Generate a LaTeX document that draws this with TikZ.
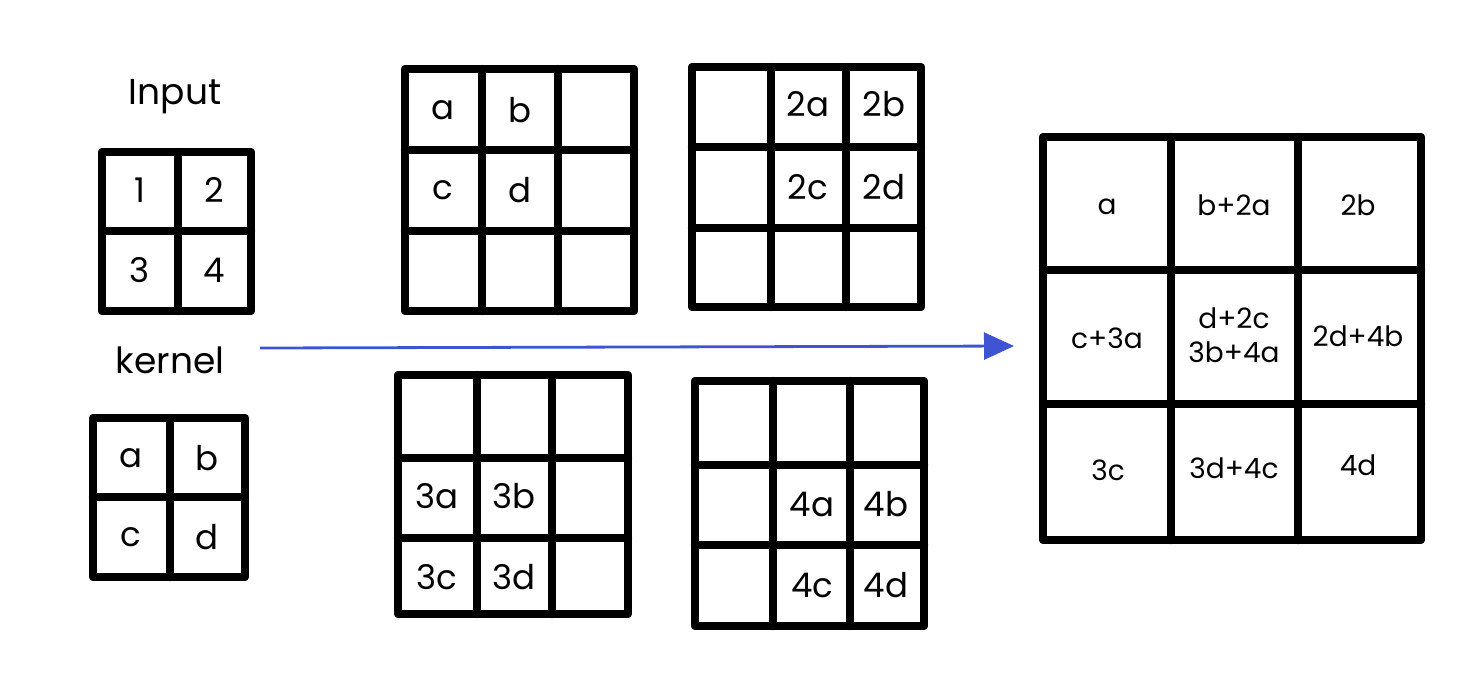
\documentclass[tikz,border=0pt]{standalone}
\usepackage{fontspec}
\setmainfont{Poppins}
\usetikzlibrary{arrows.meta}
\definecolor{arrowBlue}{RGB}{62,84,211}
\tikzset{
    GRID/.style={draw=black, line width=4.2pt, line cap=round,
        line join=round},
    LABEL/.style={inner sep=0mm, font={\fontsize{18}{21}\selectfont}},
    CELL/.style={inner sep=0mm, font={\fontsize{17}{20}\selectfont}},
    SUM/.style={inner sep=0mm, align=center,
        font={\fontsize{14}{17}\selectfont}},
    ARROW/.style={draw=arrowBlue, line width=1.4pt,
        -{Triangle[length=15pt, width=13.5pt]}}
}
\pgfdeclarelayer{edgelayer}
\pgfdeclarelayer{nodelayer}
\pgfsetlayers{edgelayer,nodelayer,main}

\begin{document}
\begin{tikzpicture}[x=0.5pt, y=-0.5pt]
    \useasboundingbox (0, 0) rectangle (1466, 677);
    \begin{pgfonlayer}{nodelayer}
        % input and kernel
        \node [LABEL] (input) at (175, 97) {Input};
        \node [CELL] (i1) at (140, 190) {1};
        \node [CELL] (i2) at (214, 190) {2};
        \node [CELL] (i3) at (140, 270) {3};
        \node [CELL] (i4) at (214, 270) {4};
        \node [LABEL] (kernel) at (170, 360) {kernel};
        \node [CELL] (ka) at (131, 458) {a};
        \node [CELL] (kb) at (207, 458) {b};
        \node [CELL] (kc) at (131, 537) {c};
        \node [CELL] (kd) at (207, 537) {d};
        % partial products
        \node [CELL] (a1) at (443, 110) {a};
        \node [CELL] (a2) at (520, 110) {b};
        \node [CELL] (a3) at (443, 190) {c};
        \node [CELL] (a4) at (520, 190) {d};
        \node [CELL] (b1) at (808, 104) {2a};
        \node [CELL] (b2) at (884, 104) {2b};
        \node [CELL] (b3) at (808, 187) {2c};
        \node [CELL] (b4) at (884, 187) {2d};
        \node [CELL] (c1) at (437, 496) {3a};
        \node [CELL] (c2) at (514, 496) {3b};
        \node [CELL] (c3) at (437, 577) {3c};
        \node [CELL] (c4) at (514, 577) {3d};
        \node [CELL] (d1) at (812, 504) {4a};
        \node [CELL] (d2) at (886, 504) {4b};
        \node [CELL] (d3) at (812, 585) {4c};
        \node [CELL] (d4) at (886, 585) {4d};
        % output
        \node [SUM] (o1) at (1107, 207) {a};
        \node [SUM] (o2) at (1234, 205) {b+2a};
        \node [SUM] (o3) at (1358, 205) {2b};
        \node [SUM] (o4) at (1107, 338) {c+3a};
        \node [SUM] (o5) at (1234, 335) {d+2c\\3b+4a};
        \node [SUM] (o6) at (1358, 336) {2d+4b};
        \node [SUM] (o7) at (1108, 470) {3c};
        \node [SUM] (o8) at (1234, 468) {3d+4c};
        \node [SUM] (o9) at (1358, 465) {4d};
        \coordinate (from) at (260, 348);
        \coordinate (to) at (1014, 346);
    \end{pgfonlayer}
    \begin{pgfonlayer}{edgelayer}
        \draw[GRID] (102, 152) rectangle (251, 311)
            (178, 152) -- (178, 311) (102, 231) -- (251, 231);
        \draw[GRID] (93, 418) rectangle (245, 577)
            (170, 418) -- (170, 577) (93, 497) -- (245, 497);
        \draw[GRID] (405, 69) rectangle (634, 311)
            (482, 69) -- (482, 311) (558, 69) -- (558, 311)
            (405, 150) -- (634, 150) (405, 231) -- (634, 231);
        \draw[GRID] (692, 67) rectangle (921, 307)
            (771, 67) -- (771, 307) (846, 67) -- (846, 307)
            (692, 147) -- (921, 147) (692, 228) -- (921, 228);
        \draw[GRID] (398, 375) rectangle (628, 614)
            (477, 375) -- (477, 614) (552, 375) -- (552, 614)
            (398, 458) -- (628, 458) (398, 538) -- (628, 538);
        \draw[GRID] (695, 381) rectangle (924, 626)
            (773, 381) -- (773, 626) (850, 381) -- (850, 626)
            (695, 465) -- (924, 465) (695, 545) -- (924, 545);
        \draw[GRID] (1043, 137) rectangle (1421, 540)
            (1171, 137) -- (1171, 540) (1298, 137) -- (1298, 540)
            (1043, 270) -- (1421, 270) (1043, 404) -- (1421, 404);
        \draw[ARROW] (from) -- (to);
    \end{pgfonlayer}
\end{tikzpicture}
\end{document}
